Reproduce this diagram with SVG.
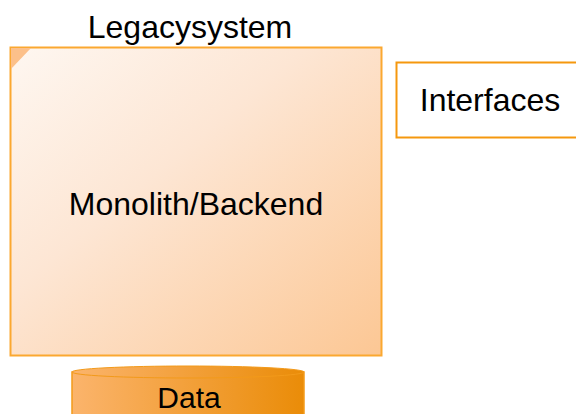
<svg xmlns="http://www.w3.org/2000/svg" width="576" height="414" viewBox="0 0 576 414">
<defs>
<linearGradient id="gBox" x1="0" y1="0" x2="1" y2="1">
<stop offset="0" stop-color="#fef7f1"/>
<stop offset="0.4" stop-color="#fde6d4"/>
<stop offset="1" stop-color="#fcc794"/>
</linearGradient>
<linearGradient id="gData" x1="0" y1="0" x2="1" y2="0">
<stop offset="0" stop-color="#fbb46c"/>
<stop offset="1" stop-color="#ea8c08"/>
</linearGradient>
<style>
.t{font-family:"Liberation Sans",Arial,sans-serif;font-size:32px;fill:#000;text-anchor:middle}
</style>
</defs>
<g id="legacy">
<rect x="10.5" y="47.5" width="371" height="308" fill="url(#gBox)" stroke="#fba830" stroke-width="2"/>
<polygon points="11,48 31,48 11,69" fill="#fcc08a"/>
<text class="t" x="190" y="38">Legacysystem</text>
<text class="t" x="196" y="215">Monolith/Backend</text>
</g>
<g id="interfaces">
<rect x="396.5" y="62.5" width="190" height="75" fill="#fff" stroke="#f5980e" stroke-width="2"/>
<text class="t" x="490" y="111">Interfaces</text>
</g>
<g id="data">
<path d="M72,372 L72,420 L304,420 L304,372 Z" fill="url(#gData)" stroke="#f39a1a" stroke-width="1.5"/>
<ellipse cx="188" cy="372" rx="116" ry="6" fill="url(#gData)" stroke="#f39a1a" stroke-width="1"/>
<text class="t" x="189" y="408" style="font-size:30px">Data</text>
</g>
<g id="connectors"/>
</svg>
